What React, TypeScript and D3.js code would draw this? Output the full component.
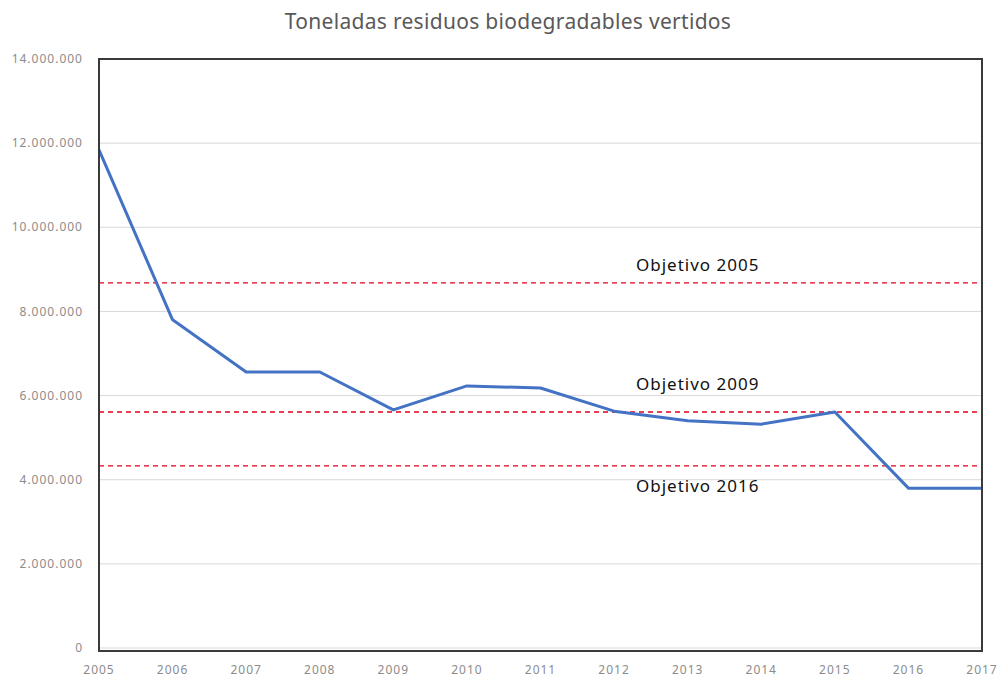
import React from "react";
import * as d3 from "d3";

const years = [2005, 2006, 2007, 2008, 2009, 2010, 2011, 2012, 2013, 2014, 2015, 2016, 2017];
const tonnes = [11840000, 7800000, 6560000, 6560000, 5660000, 6230000, 6180000, 5630000, 5400000, 5320000, 5610000, 3800000, 3800000];
const targetLabels = ["Objetivo 2005", "Objetivo 2009", "Objetivo 2016"];
const targetValues = [8680000, 5610000, 4330000];
const yTicks = [0, 2000000, 4000000, 6000000, 8000000, 10000000, 12000000, 14000000];

const W = 1002;
const H = 680;
const margin = { top: 59, right: 20, bottom: 32, left: 99 };

const fmt = (v: number) => (v === 0 ? "0" : d3.format(",")(v).replace(/,/g, "."));

export default function App() {
  const x = d3
    .scaleLinear()
    .domain([years[0], years[years.length - 1]])
    .range([margin.left, W - margin.right]);
  const y = d3
    .scaleLinear()
    .domain([0, 14000000])
    .range([648, margin.top]);

  const line = d3
    .line<number>()
    .x((_, i) => x(years[i]))
    .y(d => y(d));

  // label offsets relative to the dashed target line
  const labelDy = [-18, -28, 20];

  return (
    <svg width={W} height={H} style={{ position: "absolute", left: 0, top: 0 }} fontFamily="'Noto Sans', sans-serif">
      <rect width={W} height={H} fill="#fff" />
      <text x={508} y={29} textAnchor="middle" fontSize={21} letterSpacing={0.3} fill="#595959">
        Toneladas residuos biodegradables vertidos
      </text>
      {yTicks.map(t => (
        <g key={t}>
          <line x1={x.range()[0]} x2={x.range()[1]} y1={y(t)} y2={y(t)} stroke="#d9d9d9" strokeWidth={1} />
          <text x={83} y={y(t)} dy="0.35em" textAnchor="end" fontSize={12} letterSpacing={1} fill="#8c8c8c">
            {fmt(t)}
          </text>
        </g>
      ))}
      {years.map(yr => (
        <text key={yr} x={x(yr)} y={674} textAnchor="middle" fontSize={12} letterSpacing={1} fill="#8c8c8c">
          {yr}
        </text>
      ))}
      {targetValues.map((v, i) => (
        <g key={targetLabels[i]}>
          <line
            x1={x.range()[0]}
            x2={x.range()[1]}
            y1={y(v)}
            y2={y(v)}
            stroke="#e0001b"
            strokeWidth={1.3}
            strokeDasharray="5,4"
          />
          <text x={636} y={y(v) + labelDy[i]} dy="0.35em" fontSize={17} letterSpacing={1} fill="#111">
            {targetLabels[i]}
          </text>
        </g>
      ))}
      <path d={line(tonnes) ?? ""} fill="none" stroke="#4472c4" strokeWidth={3} strokeLinejoin="round" />
      <rect
        x={x.range()[0]}
        y={margin.top}
        width={x.range()[1] - x.range()[0]}
        height={651 - margin.top}
        fill="none"
        stroke="#3a3a3a"
        strokeWidth={2}
      />
    </svg>
  );
}
